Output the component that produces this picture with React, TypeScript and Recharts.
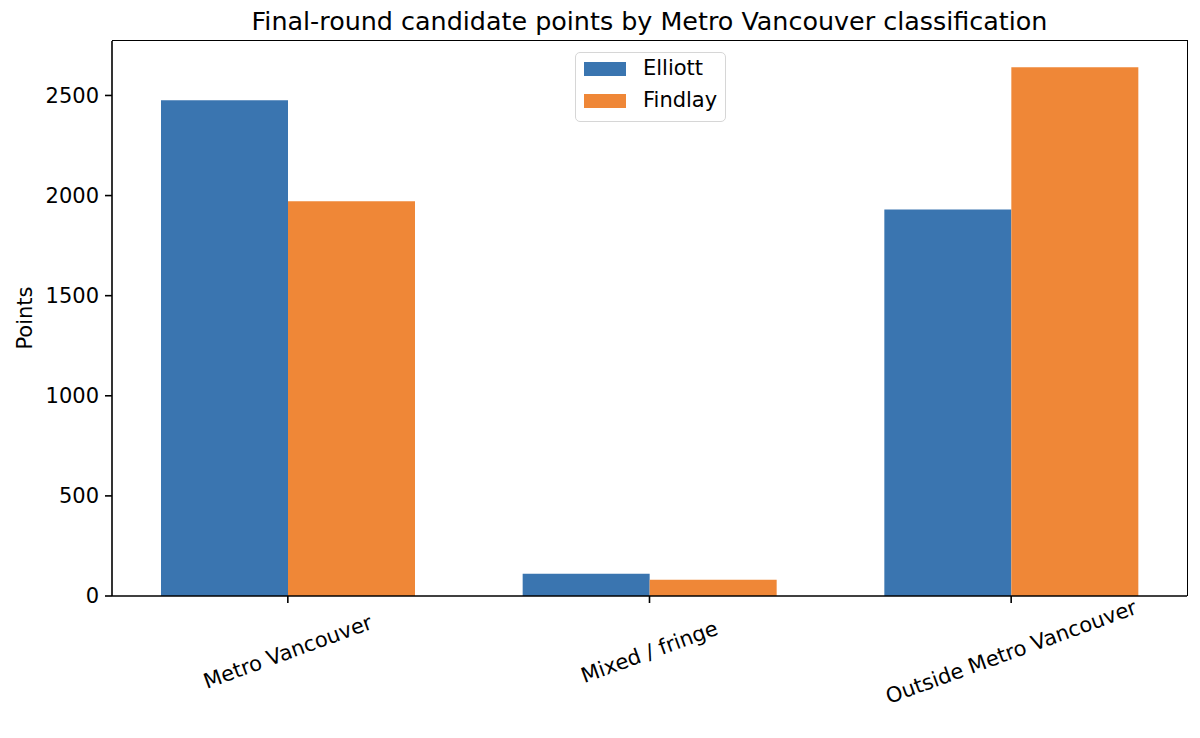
import React from "react";
import {
  BarChart,
  Bar,
  XAxis,
  YAxis,
} from "recharts";

const categories = ["Metro Vancouver", "Mixed / fringe", "Outside Metro Vancouver"];
const elliott = [2476, 111, 1931];
const findlay = [1972, 81, 2641];
const yTicks = [0, 500, 1000, 1500, 2000, 2500];

const FONT = "DejaVu Sans, sans-serif";
const BLUE = "#3a75b0";
const ORANGE = "#ef8737";

const chartData = categories.map((name, i) => ({
  name,
  Elliott: elliott[i],
  Findlay: findlay[i],
}));

const legendItems = [
  { label: "Elliott", color: BLUE, top: 9 },
  { label: "Findlay", color: ORANGE, top: 41 },
];

const XTick = (props: any) => {
  const { x, y, payload } = props;
  return (
    <text
      transform={`translate(${x}, ${y + 47}) rotate(-20)`}
      textAnchor="middle"
      dominantBaseline="central"
      fontSize={21}
      fontFamily={FONT}
      fill="#000"
    >
      {payload.value}
    </text>
  );
};

const LegendBox = () => (
  <div
    style={{
      position: "absolute",
      left: 575,
      top: 52,
      width: 151,
      height: 70,
      border: "1.5px solid #d6d6d6",
      borderRadius: 5,
      background: "rgba(255,255,255,0.8)",
      fontFamily: FONT,
      fontSize: 21,
      color: "#000",
      boxSizing: "border-box",
    }}
  >
    {legendItems.map((it) => (
      <div key={it.label}>
        <div
          style={{
            position: "absolute",
            left: 8,
            top: it.top,
            width: 42,
            height: 14,
            background: it.color,
          }}
        />
        <div
          style={{
            position: "absolute",
            left: 67,
            top: it.top - 6,
            lineHeight: "24px",
          }}
        >
          {it.label}
        </div>
      </div>
    ))}
  </div>
);

export default function App() {
  return (
    <div style={{ position: "absolute", left: 0, top: 0, width: 1200, height: 738, background: "#fff" }}>
      <div
        style={{
          position: "absolute",
          left: 112,
          width: 1075,
          top: 7,
          textAlign: "center",
          fontFamily: FONT,
          fontSize: 25.4,
          lineHeight: "28px",
          color: "#000",
        }}
      >
        Final-round candidate points by Metro Vancouver classification
      </div>
      <BarChart
        width={1200}
        height={738}
        data={chartData}
        margin={{ top: 41, right: 13, bottom: 0, left: 0 }}
        barGap={0}
      >
        <XAxis
          dataKey="name"
          padding={{ left: -5, right: -5 }}
          tick={<XTick />}
          tickSize={7}
          tickLine={{ stroke: "#000", strokeWidth: 1.6 }}
          axisLine={{ stroke: "#000", strokeWidth: 1.6 }}
          interval={0}
          height={142}
        />
        <YAxis
          width={112}
          domain={[0, 2772]}
          ticks={yTicks}
          tickSize={7}
          tickMargin={6}
          tick={{ fontSize: 21, fontFamily: FONT, fill: "#000" }}
          tickLine={{ stroke: "#000", strokeWidth: 1.6 }}
          axisLine={{ stroke: "#000", strokeWidth: 1.6 }}
          label={{
            content: () => (
              <text
                transform="translate(25, 318) rotate(-90)"
                textAnchor="middle"
                dominantBaseline="central"
                fontSize={21}
                fontFamily={FONT}
                fill="#000"
              >
                Points
              </text>
            ),
          }}
        />
        <Bar dataKey="Elliott" fill={BLUE} barSize={127} isAnimationActive={false} />
        <Bar dataKey="Findlay" fill={ORANGE} barSize={127} isAnimationActive={false} />
      </BarChart>
      {/* top and right spines of the plot frame */}
      <div
        style={{
          position: "absolute",
          left: 112,
          top: 40,
          width: 1076,
          height: 556,
          borderTop: "1.6px solid #000",
          borderRight: "1.6px solid #000",
          boxSizing: "border-box",
          pointerEvents: "none",
        }}
      />
      <LegendBox />
    </div>
  );
}
